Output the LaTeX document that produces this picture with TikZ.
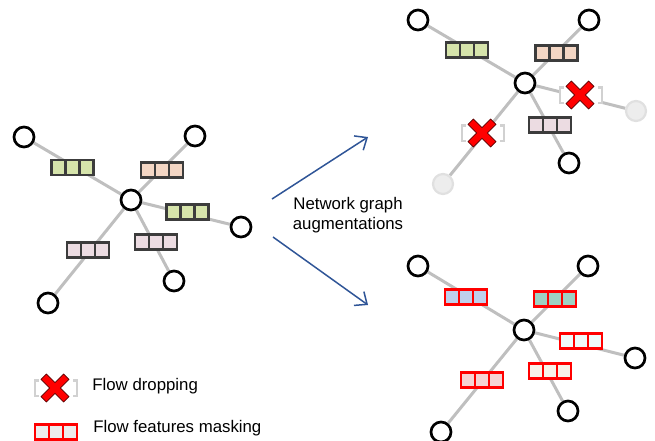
\documentclass[tikz,border=0pt]{standalone}
\usepackage{fontspec}
\setmainfont{Liberation Sans}
\usetikzlibrary{positioning,arrows.meta,backgrounds,calc}

\definecolor{greenfill}{HTML}{D6E4AB}
\definecolor{peachfill}{HTML}{F3D6C4}
\definecolor{lilacfill}{HTML}{ECDCE2}
\definecolor{bluefill}{HTML}{BFD0EC}
\definecolor{tealfill}{HTML}{9ED2C3}
\definecolor{icefill}{HTML}{F0FAFA}
\definecolor{rosefill}{HTML}{F6D4D4}
\definecolor{creamfill}{HTML}{F8F3EA}
\definecolor{augblue}{HTML}{2F5597}
\definecolor{cellgray}{HTML}{3C3C3C}

\tikzset{
  vertex/.style={circle, draw=black, line width=2.7pt, fill=white, minimum size=20pt, inner sep=0pt},
  ghost/.style={circle, draw=black!12, line width=2.2pt, fill=black!7, minimum size=20pt, inner sep=0pt},
  link/.style={draw=black!25, line width=3pt},
  flow/.style 2 args={rectangle, draw=#1, fill=#2, line width=2.2pt, minimum width=42pt, minimum height=15pt, inner sep=0pt,
    path picture={\draw[#1, line width=2.2pt]
      ($(path picture bounding box.north west)!1/3!(path picture bounding box.north east)$) --
      ($(path picture bounding box.south west)!1/3!(path picture bounding box.south east)$)
      ($(path picture bounding box.north west)!2/3!(path picture bounding box.north east)$) --
      ($(path picture bounding box.south west)!2/3!(path picture bounding box.south east)$);}},
  dropped/.style={rectangle, fill=white, minimum width=42pt, minimum height=15pt, inner sep=0pt},
  bracket/.style={draw=black!18, line width=2.4pt},
  cross/.pic={\filldraw[fill=red, draw=red!35!black, line width=0.6pt, rotate=45]
    (-3.8,16) -- (3.8,16) -- (3.8,3.8) -- (16,3.8) -- (16,-3.8) -- (3.8,-3.8) --
    (3.8,-16) -- (-3.8,-16) -- (-3.8,-3.8) -- (-16,-3.8) -- (-16,3.8) -- (-3.8,3.8) -- cycle;},
  aug/.style={draw=augblue, line width=1.5pt, -{Straight Barb[length=10pt,width=17pt,line width=1.5pt]}},
  label/.style={font=\fontsize{16.8}{20}\selectfont, inner sep=0pt}
}

\begin{document}
\begin{tikzpicture}[x=1pt, y=-1pt]
\useasboundingbox (0,0) rectangle (655,440);

\node[vertex] (a0) at (131,200) {};
\node[vertex] (a1) at (24,137) {};
\node[vertex] (a2) at (195,136) {};
\node[vertex] (a3) at (241,227) {};
\node[vertex] (a4) at (174,281) {};
\node[vertex] (a5) at (48,303) {};
\node[flow={cellgray}{greenfill}] (fa1) at (72.5,167.5) {};
\node[flow={cellgray}{peachfill}] (fa2) at (162,170) {};
\node[flow={cellgray}{greenfill}] (fa3) at (187.5,212) {};
\node[flow={cellgray}{lilacfill}] (fa4) at (156,242) {};
\node[flow={cellgray}{lilacfill}] (fa5) at (88,250) {};

\node[vertex] (t0) at (525,83) {};
\node[vertex] (t1) at (418,20) {};
\node[vertex] (t2) at (589,20) {};
\node[ghost] (t3) at (636,111) {};
\node[vertex] (t4) at (569,163) {};
\node[ghost] (t5) at (443,184) {};
\node[flow={cellgray}{greenfill}] (ft1) at (467,50) {};
\node[flow={cellgray}{peachfill}] (ft2) at (556.5,53) {};
\node[dropped] (ft3) at (581,95) {};
\node[flow={cellgray}{lilacfill}] (ft4) at (550,125) {};
\node[dropped] (ft5) at (483,133) {};

\node[vertex] (b0) at (524,330) {};
\node[vertex] (b1) at (418,266) {};
\node[vertex] (b2) at (588,266) {};
\node[vertex] (b3) at (635,358) {};
\node[vertex] (b4) at (568,411) {};
\node[vertex] (b5) at (441,432) {};
\node[flow={red}{bluefill}] (fb1) at (466,297) {};
\node[flow={red}{tealfill}] (fb2) at (555,299) {};
\node[flow={red}{icefill}] (fb3) at (581,341) {};
\node[flow={red}{creamfill}] (fb4) at (550,371) {};
\node[flow={red}{rosefill}] (fb5) at (482,380) {};

\node[dropped] (legdrop) at (56,388) {};
\node[flow={red}{black!7}] (legmask) at (56,432) {};
\node[label, anchor=west, right=15pt of legdrop.east, yshift=2pt] (txtdrop) {Flow dropping};
\node[label, anchor=west, right=15pt of legmask.east, yshift=4pt] (txtmask) {Flow features masking};

\foreach \d in {ft3,ft5,legdrop}{
  \draw[bracket] ([xshift=4pt]\d.north west) -| (\d.south west) -- ([xshift=4pt]\d.south west);
  \draw[bracket] ([xshift=-4pt]\d.north east) -| (\d.south east) -- ([xshift=-4pt]\d.south east);
  \pic at ([xshift=-1pt]\d.center) {cross};
}

\begin{scope}[on background layer]
\foreach \g in {a,t,b}{
  \foreach \i in {1,...,5}{
    \draw[link] (\g0) -- (\g\i);
  }
}
\end{scope}

\node[label, align=center] (augtxt) at (348,215) {Network graph\\augmentations};
\coordinate (upstart) at (272,199);
\coordinate (upend) at (368,137);
\coordinate (downstart) at (273,237);
\coordinate (downend) at (368,305);
\draw[aug] (upstart) -- (upend);
\draw[aug] (downstart) -- (downend);

\end{tikzpicture}
\end{document}
